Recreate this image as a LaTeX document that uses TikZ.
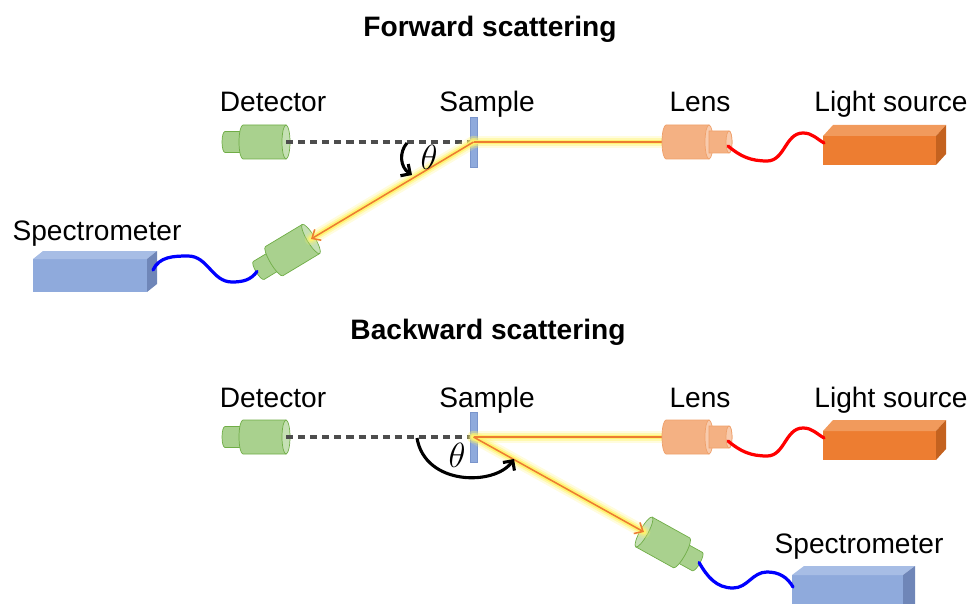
\documentclass[tikz,border=0pt]{standalone}
\usepackage{fontspec}
\setmainfont{Liberation Sans}
\usetikzlibrary{arrows.meta}

\definecolor{gfill}{HTML}{A9D18E}
\definecolor{gface}{HTML}{C5E0B4}
\definecolor{gstroke}{HTML}{70AD47}
\definecolor{ofill}{HTML}{F4B183}
\definecolor{oface}{HTML}{F8CBAD}
\definecolor{ostroke}{HTML}{EFA06A}
\definecolor{srcfront}{HTML}{ED7D31}
\definecolor{srctop}{HTML}{F19A5C}
\definecolor{srcside}{HTML}{C4621F}
\definecolor{specfront}{HTML}{8FAADC}
\definecolor{spectop}{HTML}{A7BDE5}
\definecolor{specside}{HTML}{6F86B8}
\definecolor{samplefill}{HTML}{8FAADC}
\definecolor{samplestroke}{HTML}{7A95CC}
\definecolor{dashgray}{HTML}{4D4D4D}
\definecolor{glowc}{HTML}{FFF36B}
\definecolor{beamorange}{HTML}{ED7D31}
\definecolor{wirered}{HTML}{FF0000}
\definecolor{wireblue}{HTML}{0000FF}

% a 3D box: front top-left corner (#1,#2), width #3, height #4, depth (#5,#6), colour family #7
\newcommand{\cuboid}[7]{%
  \fill[#7front] (#1,-#2) rectangle ++(#3,-#4);
  \fill[#7top] (#1,-#2) -- ++(#5,#6) -- ++(#3,0) -- ++(-#5,-#6) -- cycle;
  \fill[#7side] (#1+#3,-#2) -- ++(#5,#6) -- ++(0,-#4) -- ++(-#5,-#6) -- cycle;
}
% glowing halo of a light beam
\newcommand{\glow}[2]{%
  \draw[glowc, line width=9pt, opacity=.22, line cap=round] (#1) -- (#2);
  \draw[glowc, line width=6pt, opacity=.4, line cap=round] (#1) -- (#2);
  \draw[glowc, line width=3.5pt, opacity=.9, line cap=round] (#1) -- (#2);
}

\tikzset{
  lbl/.style={font=\fontsize{20}{24}\selectfont, anchor=base, inner sep=0pt},
  ttl/.style={font=\bfseries\fontsize{20}{24}\selectfont, anchor=base, inner sep=0pt},
  thetalbl/.style={font=\fontsize{24}{28}\selectfont, inner sep=0pt},
  refline/.style={draw=dashgray, line width=2.4pt, dash pattern=on 5pt off 3.6pt},
  beam/.style={draw=beamorange, line width=1.1pt},
  beamarrow/.style={beam, -{Straight Barb[length=5pt,width=9pt]}},
  wire/.style={line width=2.3pt, line cap=round},
  angarrow/.style={line width=2.2pt, -{Straight Barb[length=5pt,width=10pt]}},
  samplebar/.style={draw=samplestroke, fill=samplefill, line width=0.4pt,
    minimum width=5pt, minimum height=35.4pt, inner sep=0pt},
  gline/.style={draw=gstroke, line width=0.5pt},
  oline/.style={draw=ostroke, line width=0.5pt},
  pics/detector/.style={code={
    \draw[gline, fill=gfill] (-40,-10.5) -- (-61,-10.5)
      arc[start angle=270, end angle=90, x radius=3, y radius=10.5] -- (-40,10.5) -- cycle;
    \draw[gline, fill=gfill] (0,-17) -- (-43,-17)
      arc[start angle=270, end angle=90, x radius=4, y radius=17] -- (0,17) -- cycle;
    \draw[gline, fill=gface] (0,0) ellipse[x radius=4, y radius=17];
    \coordinate (-face) at (0,0);
    \coordinate (-tail) at (-63,0);
  }},
  pics/lens/.style={code={
    \draw[oline, fill=ofill] (0,-17) -- (-43,-17)
      arc[start angle=270, end angle=90, x radius=4, y radius=17] -- (0,17) -- cycle;
    \draw[oline, fill=oface] (0,0) ellipse[x radius=4, y radius=17];
    \draw[oline, fill=ofill] (0,-11) -- (20,-11)
      arc[start angle=-90, end angle=90, x radius=3, y radius=11] -- (0,11) -- cycle;
    \draw[oline, fill=oface] (20,0) ellipse[x radius=3, y radius=11];
    \coordinate (-in) at (-47,0);
    \coordinate (-out) at (19,-4);
  }},
}

\begin{document}
\begin{tikzpicture}[x=0.025cm, y=0.025cm]
\useasboundingbox (0,0) rectangle (970,-603);
\clip (0,0) rectangle (970,-603);

% ---------------- titles and labels ----------------
\node[ttl] (t1) at (490,-37) {Forward scattering};
\node[ttl] (t2) at (488,-339) {Backward scattering};

\node[lbl] (ldet1) at (273,-112) {Detector};
\node[lbl] (lsam1) at (487,-112) {Sample};
\node[lbl] (llen1) at (700,-112) {Lens};
\node[lbl] (lsrc1) at (891,-112) {Light source};
\node[lbl] (lspe1) at (97,-240) {Spectrometer};

\node[lbl] (ldet2) at (273,-407) {Detector};
\node[lbl] (lsam2) at (487,-407) {Sample};
\node[lbl] (llen2) at (700,-407) {Lens};
\node[lbl] (lsrc2) at (891,-407) {Light source};
\node[lbl] (lspe2) at (859,-553) {Spectrometer};

% ---------------- forward scattering ----------------
\cuboid{823}{136}{113}{29}{10}{11}{src}
\cuboid{33}{259}{114}{33}{10}{8}{spec}
\coordinate (srcin1) at (824,-143);
\coordinate (specin1) at (153,-270);

\pic (d1) at (286,-142) {detector};
\pic[rotate=31] (d2) at (311,-239) {detector};

\coordinate (ref1) at (473,-142);
\draw[refline] (d1-face) -- (ref1);
\node[samplebar] (samp1) at (473.5,-142) {};

\glow{samp1.center}{d2-face}
\glow{samp1.center}{662,-142}
\draw[beam] (samp1.center) -- (662,-142) coordinate (lensin1);
\draw[beamarrow] (samp1.center) -- (d2-face);

\pic (l1) at (709,-142) {lens};

% fibres
\coordinate (rt1) at (767,-161);
\coordinate (rp1) at (803,-133);
\draw[wire, wirered] (l1-out) to[out=-40,in=180] (rt1) to[out=0,in=180] (rp1) to[out=0,in=150] (srcin1);
\coordinate (bt1) at (232,-282);
\coordinate (bp1) at (188,-256);
\draw[wire, wireblue] (d2-tail) to[out=235,in=0] (bt1) to[out=180,in=0] (bp1) to[out=180,in=65] (specin1);

% scattering angle
\coordinate (a1s) at (407,-143);
\coordinate (a1e) at (412,-175);
\draw[angarrow] (a1s) .. controls (399,-152) and (400,-167) .. (a1e);
\node[thetalbl] (th1) at (429,-157) {$\theta$};

% ---------------- backward scattering ----------------
\cuboid{823}{431}{113}{29}{10}{11}{src}
\cuboid{792}{575}{111}{40}{12}{9}{spec}
\coordinate (srcin2) at (824,-438);
\coordinate (specin2) at (793,-587);

\pic (d3) at (286,-437) {detector};
\pic[rotate=151] (d4) at (644,-532) {detector};

\coordinate (ref2) at (473,-437);
\draw[refline] (d3-face) -- (ref2);
\node[samplebar] (samp2) at (473.5,-437) {};

\glow{samp2.center}{d4-face}
\glow{samp2.center}{662,-437}
\draw[beam] (samp2.center) -- (662,-437) coordinate (lensin2);
\draw[beamarrow] (samp2.center) -- (d4-face);

\pic (l2) at (709,-437) {lens};

% fibres
\coordinate (rt2) at (767,-456);
\coordinate (rp2) at (803,-428);
\draw[wire, wirered] (l2-out) to[out=-40,in=180] (rt2) to[out=0,in=180] (rp2) to[out=0,in=150] (srcin2);
\coordinate (bt2) at (733,-588);
\coordinate (bp2) at (767,-572);
\draw[wire, wireblue] (d4-tail) to[out=-60,in=180] (bt2) to[out=0,in=180] (bp2) to[out=0,in=120] (specin2);

% scattering angle
\coordinate (a2s) at (417,-438);
\coordinate (a2e) at (514,-459);
\draw[angarrow] (a2s) .. controls (425,-486) and (495,-486) .. (a2e);
\node[thetalbl] (th2) at (457,-455) {$\theta$};

\end{tikzpicture}
\end{document}
